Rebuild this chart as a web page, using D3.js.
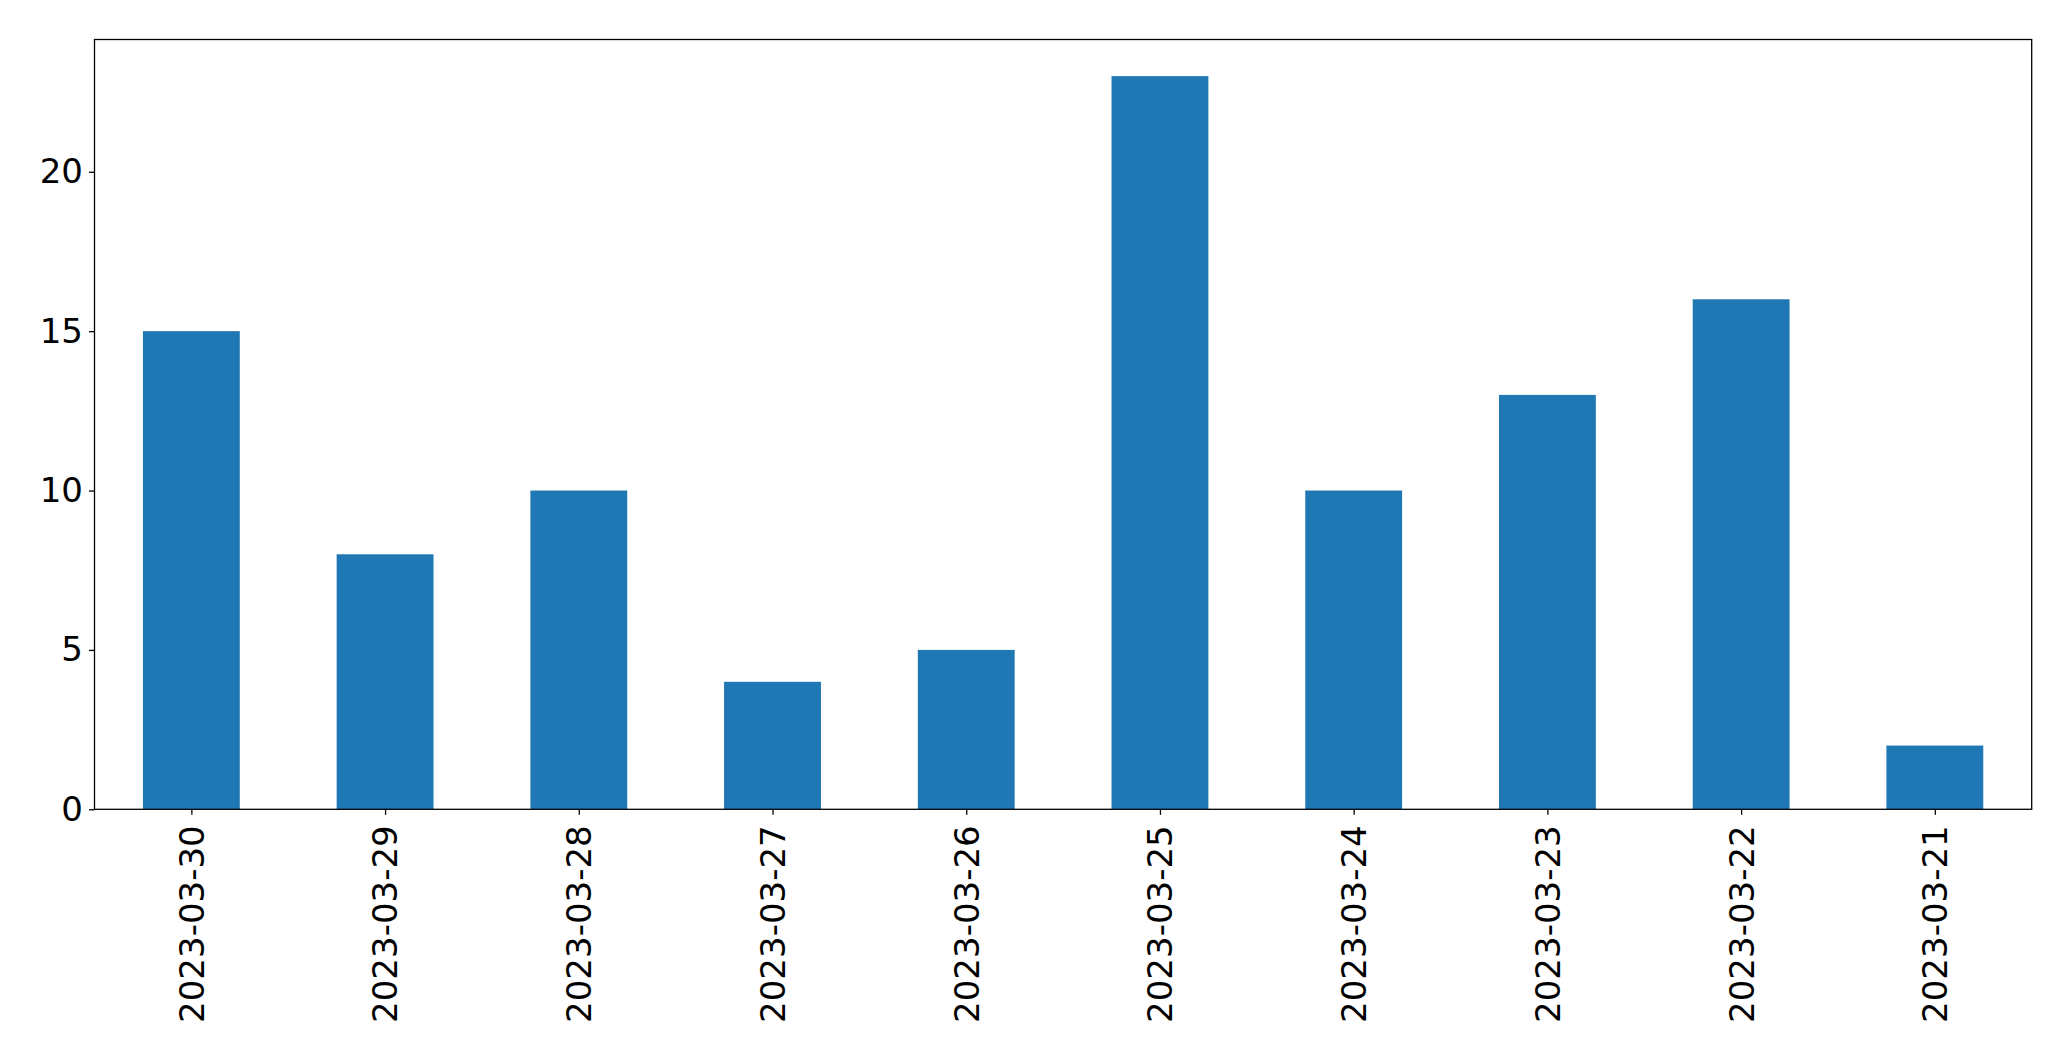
<!DOCTYPE html>
<html><head><meta charset="utf-8">
<script src="https://cdn.jsdelivr.net/npm/d3@7"></script>
<style>html,body{margin:0;padding:0;background:#fff;}svg{display:block;}</style>
</head><body>
<svg id="chart" width="2071" height="1061"></svg>
<script>
const categories = ["2023-03-30","2023-03-29","2023-03-28","2023-03-27","2023-03-26","2023-03-25","2023-03-24","2023-03-23","2023-03-22","2023-03-21"];
const values = [15, 8, 10, 4, 5, 23, 10, 13, 16, 2];
const yTicks = [0, 5, 10, 15, 20];

const svg = d3.select("#chart");
const m = {left: 94.5, right: 2031.7, top: 39.5, bottom: 809.3};
const font = "DejaVu Sans, sans-serif";
const fs = 34;

const x = d3.scaleLinear().domain([-0.5, categories.length - 0.5]).range([m.left, m.right]);
const y = d3.scaleLinear().domain([0, d3.max(values) * 1.05]).range([m.bottom, m.top]);

svg.append("g").selectAll("rect").data(values).join("rect")
  .attr("x", (d, i) => x(i - 0.25))
  .attr("width", (d, i) => x(i + 0.25) - x(i - 0.25))
  .attr("y", d => y(d))
  .attr("height", d => y(0) - y(d))
  .attr("fill", "#1f77b4");

const yAxis = svg.append("g").attr("transform", `translate(${m.left},0)`)
  .call(d3.axisLeft(y).tickValues(yTicks).tickFormat(d3.format("d")).tickSize(5.5).tickPadding(6));
yAxis.select(".domain").remove();
yAxis.selectAll("line").attr("stroke", "#000").attr("stroke-width", 1.3);
yAxis.selectAll("text").attr("font-family", font).attr("font-size", fs).attr("fill", "#000");

const xAxis = svg.append("g").attr("transform", `translate(0,${m.bottom})`)
  .call(d3.axisBottom(x).tickValues(d3.range(categories.length)).tickFormat(i => categories[i]).tickSize(5.5));
xAxis.select(".domain").remove();
xAxis.selectAll("line").attr("stroke", "#000").attr("stroke-width", 1.3);
xAxis.selectAll("text")
  .attr("font-family", font).attr("font-size", fs).attr("fill", "#000")
  .attr("transform", "rotate(-90)")
  .attr("x", -16).attr("y", 0).attr("dy", "0.35em")
  .attr("text-anchor", "end");

svg.append("rect")
  .attr("x", m.left).attr("y", m.top)
  .attr("width", m.right - m.left).attr("height", m.bottom - m.top)
  .attr("fill", "none").attr("stroke", "#000").attr("stroke-width", 1.3);
</script>
</body></html>
